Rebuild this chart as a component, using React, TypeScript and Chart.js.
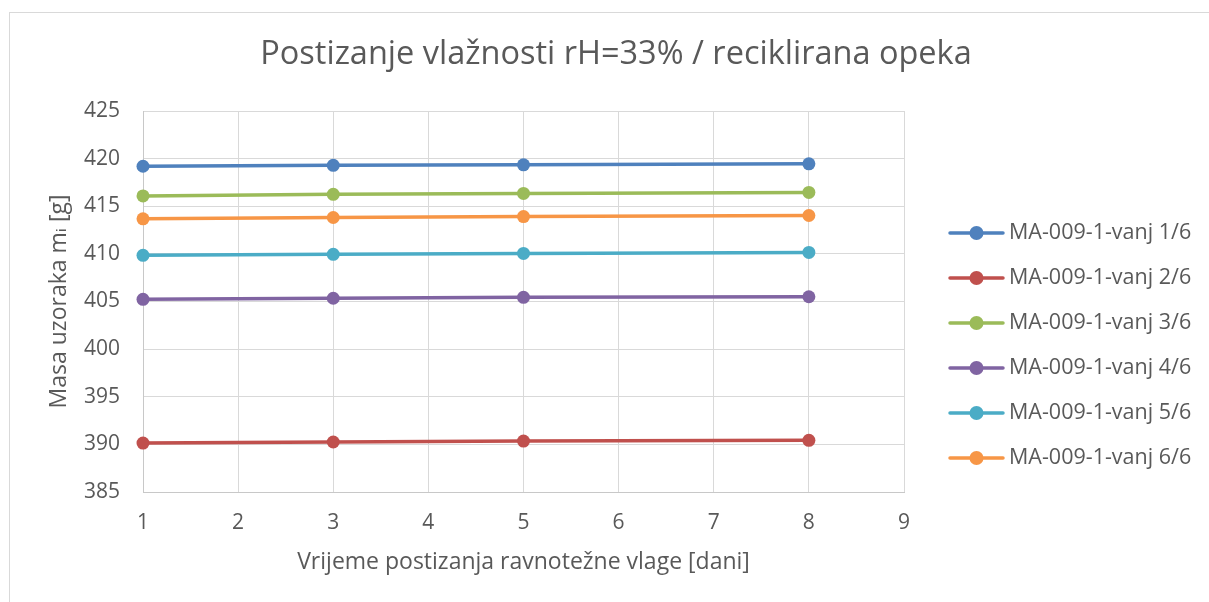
import React, { useEffect, useRef } from "react";
import { Chart, registerables } from "chart.js";

Chart.register(...registerables);

const TITLE = "Postizanje vlažnosti rH=33% / reciklirana opeka";
const X_TITLE = "Vrijeme postizanja ravnotežne vlage [dani]";
const Y_TITLE = "Masa uzoraka mᵢ [g]";

const DAYS = [1, 3, 5, 8];
const SERIES_NAMES = [
  "MA-009-1-vanj 1/6",
  "MA-009-1-vanj 2/6",
  "MA-009-1-vanj 3/6",
  "MA-009-1-vanj 4/6",
  "MA-009-1-vanj 5/6",
  "MA-009-1-vanj 6/6",
];
const S1 = [419.2, 419.3, 419.35, 419.45];
const S2 = [390.14, 390.25, 390.35, 390.42];
const S3 = [416.08, 416.25, 416.35, 416.45];
const S4 = [405.23, 405.34, 405.44, 405.5];
const S5 = [409.85, 409.95, 410.05, 410.15];
const S6 = [413.68, 413.82, 413.92, 414.03];
const SERIES_VALUES = [S1, S2, S3, S4, S5, S6];
const COLORS = ["#4F81BD", "#C0504D", "#9BBB59", "#8064A2", "#4BACC6", "#F79646"];

const Y_MIN = 385;
const Y_MAX = 425;
const Y_STEP = 5;
const X_MIN = 1;
const X_MAX = 9;
const X_STEP = 1;

const FONT = "'Open Sans', 'DejaVu Sans', sans-serif";
const TEXT_COLOR = "#595959";

const titleAndLegendPlugin = {
  id: "titleAndLegend",
  afterDraw(chart: any) {
    const ctx = chart.ctx;
    const right = chart.chartArea.right;
    ctx.save();
    // chart title
    ctx.fillStyle = TEXT_COLOR;
    ctx.font = `32.5px ${FONT}`;
    ctx.textBaseline = "middle";
    ctx.textAlign = "center";
    ctx.fillText(TITLE, 606, 42);
    // legend
    chart.data.datasets.forEach((ds: any, i: number) => {
      const y = 220 + 45 * i;
      const x0 = right + 46;
      const x1 = right + 99;
      ctx.strokeStyle = ds.borderColor;
      ctx.lineWidth = 3.5;
      ctx.lineCap = "round";
      ctx.beginPath();
      ctx.moveTo(x0, y);
      ctx.lineTo(x1, y);
      ctx.stroke();
      ctx.fillStyle = ds.borderColor;
      ctx.beginPath();
      ctx.arc((x0 + x1) / 2, y, 7, 0, Math.PI * 2);
      ctx.fill();
      ctx.fillStyle = TEXT_COLOR;
      ctx.font = `21.5px ${FONT}`;
      ctx.textBaseline = "middle";
      ctx.textAlign = "left";
      ctx.fillText(ds.label, x1 + 6, y);
    });
    ctx.restore();
  },
};

export default function App() {
  const ref = useRef<HTMLCanvasElement>(null);

  useEffect(() => {
    if (!ref.current) return;
    const datasets = SERIES_NAMES.map((name, i) => ({
      label: name,
      data: DAYS.map((d, j) => ({ x: d, y: SERIES_VALUES[i][j] })),
      borderColor: COLORS[i],
      backgroundColor: COLORS[i],
      pointBackgroundColor: COLORS[i],
      pointBorderColor: COLORS[i],
      borderWidth: 3.5,
      pointRadius: 6.5,
      pointBorderWidth: 0,
      tension: 0,
      clip: false as any,
    }));
    const chart = new Chart(ref.current, {
      type: "line",
      data: { datasets },
      plugins: [titleAndLegendPlugin],
      options: {
        animation: false,
        responsive: false,
        layout: { padding: { left: 0, top: 98, right: 305, bottom: 0 } },
        plugins: {
          legend: { display: false },
          tooltip: { enabled: false },
          title: { display: false },
        },
        scales: {
          x: {
            type: "linear",
            min: X_MIN,
            max: X_MAX,
            afterFit(scale: any) {
              scale.height = 110;
            },
            ticks: {
              stepSize: X_STEP,
              color: TEXT_COLOR,
              font: { family: FONT, size: 21 },
              padding: 18,
              maxRotation: 0,
            },
            grid: { color: "#d9d9d9", drawTicks: false, lineWidth: 1 },
            border: { color: "#c8c8c8" },
            title: {
              display: true,
              text: X_TITLE,
              color: TEXT_COLOR,
              font: { family: FONT, size: 23 },
              padding: { top: 0, bottom: 26 },
            },
          },
          y: {
            type: "linear",
            min: Y_MIN,
            max: Y_MAX,
            afterFit(scale: any) {
              scale.width = 133;
            },
            ticks: {
              stepSize: Y_STEP,
              color: TEXT_COLOR,
              font: { family: FONT, size: 21 },
              padding: 23,
            },
            grid: { color: "#d9d9d9", drawTicks: false, lineWidth: 1 },
            border: { color: "#c8c8c8" },
            title: {
              display: true,
              text: Y_TITLE,
              color: TEXT_COLOR,
              font: { family: FONT, size: 23 },
              padding: { top: 36, bottom: 0 },
            },
          },
        },
      },
    });
    return () => chart.destroy();
  }, []);

  return (
    <div
      style={{
        position: "absolute",
        left: 9,
        top: 12,
        width: 1200,
        height: 590,
        borderLeft: "1px solid #d9d9d9",
        borderTop: "1px solid #d9d9d9",
        boxSizing: "border-box",
        background: "#ffffff",
      }}
    >
      <canvas ref={ref} width={1199} height={589} style={{ display: "block" }} />
    </div>
  );
}
